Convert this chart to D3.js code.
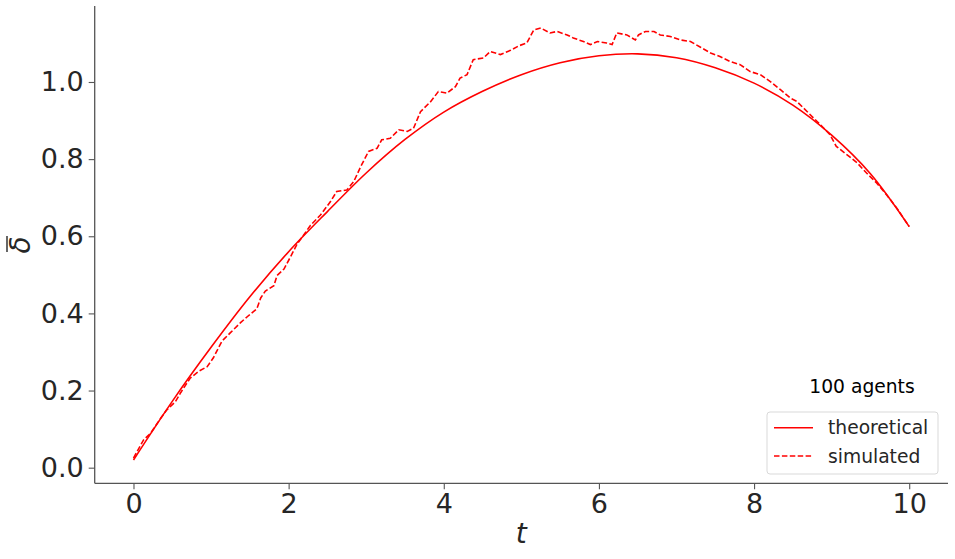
<!DOCTYPE html>
<html>
<head>
<meta charset="utf-8">
<script src="https://cdn.jsdelivr.net/npm/d3@7"></script>
<style>
  html, body { margin: 0; padding: 0; background: #fff; }
  svg { display: block; }
</style>
</head>
<body>
<svg id="chart" width="955" height="559"></svg>
<script>
// ---- data ----
const theoT = [0, 0.5, 1.0, 1.5, 2.0, 2.5, 3.0, 3.5, 4.0, 4.5, 5.0, 5.5, 6.0, 6.5, 7.0, 7.5, 8.0, 8.5, 9.0, 9.5, 10.0];
const theoV = [0.020, 0.172, 0.312, 0.443, 0.560, 0.664, 0.764, 0.851, 0.922, 0.976, 1.019, 1.050, 1.068, 1.073, 1.063, 1.037, 0.997, 0.940, 0.862, 0.762, 0.625];

const simT = [0.00, 0.13, 0.22, 0.35, 0.43, 0.54, 0.61, 0.73, 0.84, 0.95, 1.03, 1.14, 1.25, 1.38, 1.47, 1.59, 1.64, 1.70, 1.81, 1.85,
  1.94, 2.02, 2.11, 2.19, 2.28, 2.41, 2.54, 2.62, 2.75, 2.84, 2.93, 3.03, 3.14, 3.20, 3.31, 3.42, 3.53, 3.61, 3.70, 3.83,
  3.93, 4.04, 4.15, 4.21, 4.30, 4.38, 4.51, 4.60, 4.73, 4.86, 4.97, 5.07, 5.16, 5.25, 5.37, 5.46, 5.59, 5.67, 5.80, 5.89,
  5.98, 6.10, 6.17, 6.23, 6.36, 6.47, 6.51, 6.60, 6.71, 6.79, 6.92, 7.05, 7.18, 7.31, 7.44, 7.56, 7.69, 7.82, 7.95, 8.08,
  8.21, 8.34, 8.47, 8.55, 8.64, 8.77, 8.90, 8.98, 9.06, 9.20, 9.33, 9.45, 9.58, 9.71, 9.84, 10.00];
const simV = [0.025, 0.072, 0.089, 0.128, 0.150, 0.171, 0.195, 0.232, 0.250, 0.262, 0.285, 0.328, 0.350, 0.376, 0.392, 0.412, 0.440, 0.458, 0.472, 0.498,
  0.515, 0.545, 0.580, 0.602, 0.628, 0.655, 0.690, 0.716, 0.720, 0.742, 0.781, 0.820, 0.828, 0.850, 0.854, 0.876, 0.872, 0.880, 0.923, 0.949,
  0.975, 0.971, 0.988, 1.010, 1.019, 1.058, 1.062, 1.079, 1.071, 1.082, 1.094, 1.101, 1.135, 1.140, 1.127, 1.131, 1.122, 1.114, 1.105, 1.097,
  1.105, 1.101, 1.097, 1.127, 1.122, 1.109, 1.122, 1.131, 1.131, 1.122, 1.118, 1.109, 1.105, 1.090, 1.075, 1.066, 1.053, 1.045, 1.027, 1.019,
  1.001, 0.980, 0.958, 0.950, 0.932, 0.906, 0.880, 0.863, 0.833, 0.811, 0.790, 0.764, 0.738, 0.707, 0.673, 0.625];

const xTicks = [0, 2, 4, 6, 8, 10];
const yTicks = [0.0, 0.2, 0.4, 0.6, 0.8, 1.0];
const seriesNames = ["theoretical", "simulated"];
const legendTitle = "100 agents";

// ---- drawing ----
const svg = d3.select("#chart");
const pLeft = 94.7, pRight = 948, pTop = 6, pBottom = 483.3;
const x = d3.scaleLinear().domain([-0.5, 10.5]).range([pLeft, pRight]);
const y = d3.scaleLinear().domain([-0.0405, 1.197]).range([pBottom, pTop]);

const textColor = "#262626";
const spineColor = "#555";
const fontFam = "DejaVu Sans, sans-serif";

const xAxis = svg.append("g")
  .attr("transform", `translate(0,${pBottom})`)
  .call(d3.axisBottom(x).tickValues(xTicks).tickFormat(d3.format("d")).tickSize(6).tickPadding(5));
const yAxis = svg.append("g")
  .attr("transform", `translate(${pLeft},0)`)
  .call(d3.axisLeft(y).tickValues(yTicks).tickFormat(d3.format(".1f")).tickSize(6).tickPadding(5));

[xAxis, yAxis].forEach(g => {
  g.select(".domain").attr("stroke", spineColor).attr("stroke-width", 1.3);
  g.selectAll(".tick line").attr("stroke", spineColor).attr("stroke-width", 1.1);
  g.selectAll(".tick text").attr("fill", textColor).style("font-family", fontFam).style("font-size", "27px");
});
xAxis.select(".domain").attr("d", `M${pLeft},0H${pRight}`);
yAxis.select(".domain").attr("d", `M0,${pBottom}V${pTop}`);

// lines
const theoData = theoT.map((t, i) => [t, theoV[i]]);
const simData = simT.map((t, i) => [t, simV[i]]);

svg.append("path")
  .datum(theoData)
  .attr("fill", "none").attr("stroke", "#ff0000").attr("stroke-width", 1.6)
  .attr("d", d3.line().x(d => x(d[0])).y(d => y(d[1])).curve(d3.curveCatmullRom.alpha(0.5)));

svg.append("path")
  .datum(simData)
  .attr("fill", "none").attr("stroke", "#ff0000").attr("stroke-width", 1.6)
  .attr("stroke-dasharray", "5.5,2.4")
  .attr("d", d3.line().x(d => x(d[0])).y(d => y(d[1])));

// axis labels
svg.append("text")
  .attr("x", (pLeft + pRight) / 2).attr("y", 543)
  .attr("text-anchor", "middle")
  .style("font-family", fontFam).style("font-size", "28px").style("font-style", "italic")
  .attr("fill", textColor).text("t");

const yl = svg.append("g").attr("transform", "translate(30,245) rotate(-90)");
yl.append("text")
  .attr("x", 0).attr("y", 0).attr("text-anchor", "middle")
  .style("font-family", fontFam).style("font-size", "28px").style("font-style", "italic")
  .attr("fill", textColor).text("δ");
yl.append("line")
  .attr("x1", -7).attr("x2", 9).attr("y1", -23).attr("y2", -23)
  .attr("stroke", textColor).attr("stroke-width", 1.4);

// legend
const lg = svg.append("g");
lg.append("rect")
  .attr("x", 767).attr("y", 412).attr("width", 171).attr("height", 62)
  .attr("rx", 3).attr("fill", "#fff").attr("fill-opacity", 0.8)
  .attr("stroke", "#d9d9d9").attr("stroke-width", 1);
lg.append("text")
  .attr("x", 862).attr("y", 393).attr("text-anchor", "middle")
  .style("font-family", fontFam).style("font-size", "18.7px")
  .attr("fill", "#000").text(legendTitle);
seriesNames.forEach((name, i) => {
  const yy = 427.7 + i * 28.3;
  lg.append("line")
    .attr("x1", 774).attr("x2", 813).attr("y1", yy).attr("y2", yy)
    .attr("stroke", "#ff0000").attr("stroke-width", 1.6)
    .attr("stroke-dasharray", i === 1 ? "5.5,2.4" : null);
  lg.append("text")
    .attr("x", 828).attr("y", yy + 6.5)
    .style("font-family", fontFam).style("font-size", "18.7px")
    .attr("fill", textColor).text(name);
});
</script>
</body>
</html>
